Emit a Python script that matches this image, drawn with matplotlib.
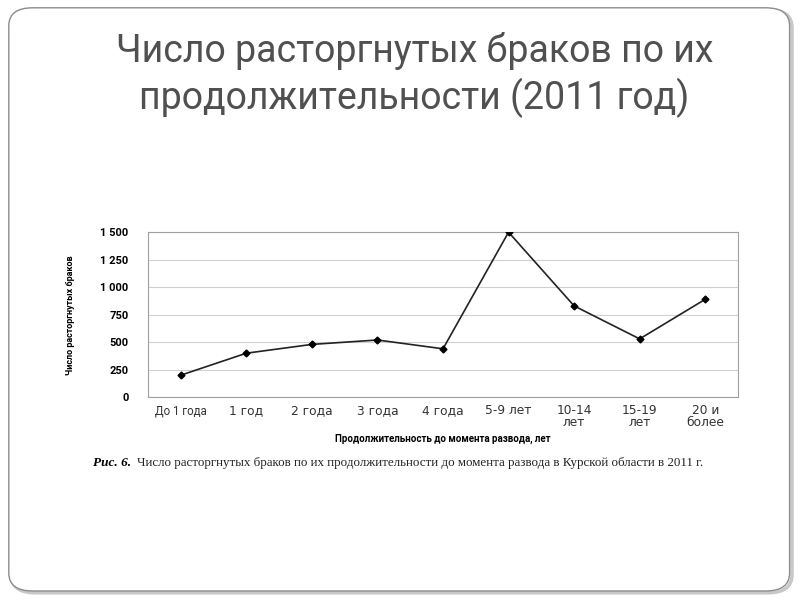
import numpy as np
import matplotlib.pyplot as plt
from matplotlib.patches import FancyBboxPatch

"""Data"""
categories = ["До 1 года", "1 год", "2 года", "3 года", "4 года", "5-9 лет",
              "10-14\nлет", "15-19\nлет", "20 и\nболее"]
divorces = [200, 400, 480, 520, 440, 1500, 830, 530, 890]
y_ticks = [0, 250, 500, 750, 1000, 1250, 1500]
y_tick_labels = ["0", "250", "500", "750", "1 000", "1 250", "1 500"]

narrow = ["Roboto", "DejaVu Sans"]

fig = plt.figure(figsize=(8, 6), dpi=100)

"""Slide frame"""
shadow = FancyBboxPatch((0.014, 0.012), 0.976, 0.972, boxstyle="round,pad=0,rounding_size=0.03",
                        transform=fig.transFigure, facecolor="none", edgecolor="#c8c8c8", lw=2.5, zorder=-2)
frame = FancyBboxPatch((0.011, 0.015), 0.976, 0.972, boxstyle="round,pad=0,rounding_size=0.03",
                       transform=fig.transFigure, facecolor="white", edgecolor="#8c8c8c", lw=1.0, zorder=-1)
fig.patches.append(shadow)
fig.patches.append(frame)

fig.text(0.518, 0.875, "Число расторгнутых браков по их\nпродолжительности (2011 год)",
         ha="center", va="center", fontsize=27, color="#505050", family=narrow, linespacing=1.25)

"""Chart"""
ax = fig.add_axes([0.185, 0.338, 0.7375, 0.275])
x = np.arange(len(categories))
ax.plot(x, divorces, color="#222222", lw=1.2, marker="D", markersize=3.5,
        markerfacecolor="black", markeredgecolor="black", zorder=3)
ax.set_xlim(-0.5, len(categories) - 0.5)
ax.set_ylim(0, 1500)
ax.set_yticks(y_ticks)
ax.set_yticklabels(y_tick_labels, family=narrow, fontsize=8, fontweight="bold")
ax.set_xticks(x)
ax.set_xticklabels(categories, fontsize=8.8, color="#333333", family="DejaVu Sans", linespacing=0.9)
ax.get_xticklabels()[0].set_family(narrow)
ax.get_xticklabels()[0].set_fontsize(8.3)
ax.tick_params(axis="x", length=0, pad=5)
ax.tick_params(axis="y", length=0, pad=14)
ax.grid(axis="y", color="#d0d0d0", lw=0.8)
ax.set_axisbelow(True)
for s in ax.spines.values():
    s.set_color("#a0a0a0")
    s.set_linewidth(0.8)
ax.set_ylabel("Число расторгнутых браков", family=narrow, fontsize=6.5, fontweight="bold", labelpad=18)
ax.set_xlabel("Продолжительность до момента развода, лет", family=narrow, fontsize=7,
              fontweight="bold", labelpad=3)

"""Caption"""
fig.text(0.116, 0.228, "Рис. 6.", family="Liberation Serif", fontsize=9.5,
         fontweight="bold", style="italic", ha="left", va="center")
fig.text(0.171, 0.228, "Число расторгнутых браков по их продолжительности до момента развода в Курской области в 2011 г.",
         family="Liberation Serif", fontsize=9.4, ha="left", va="center", color="#222222")

plt.savefig("out.png", dpi=100)
